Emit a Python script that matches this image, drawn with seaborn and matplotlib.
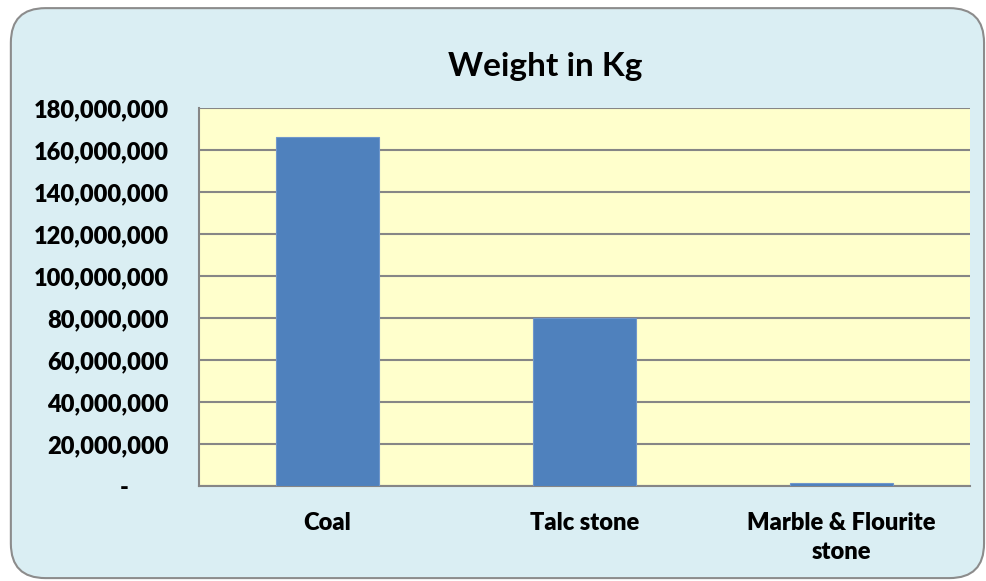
import matplotlib
matplotlib.use("Agg")
import matplotlib.pyplot as plt
import seaborn as sns
import pandas as pd
from matplotlib.patches import FancyBboxPatch
from matplotlib.ticker import FuncFormatter

categories = ["Coal", "Talc stone", "Marble & Flourite\nstone"]
weights = [166400000, 79800000, 1200000]

df = pd.DataFrame({"Category": categories, "Weight": weights})

sns.set_theme(style="white")
plt.rcParams["font.family"] = ["Lato", "DejaVu Sans"]
plt.rcParams["font.weight"] = "bold"

fig = plt.figure(figsize=(9.87, 5.81), dpi=100)
fig.patch.set_facecolor("white")

# rounded outer frame
frame = FancyBboxPatch((0.011, 0.005), 0.986, 0.981,
                       boxstyle="round,pad=0,rounding_size=0.035",
                       transform=fig.transFigure, facecolor="#DAEEF3",
                       edgecolor="#8C8C8C", linewidth=1.5,
                       mutation_aspect=987/581, zorder=-5)
fig.patches.append(frame)

ax = fig.add_axes([0.2016, 0.1635, 0.7812, 0.6506])
ax.set_zorder(2)
ax.set_facecolor("#FFFFCC")

sns.barplot(data=df, x="Category", y="Weight", color="#4F81BD",
            width=0.4, saturation=1, ax=ax, zorder=3,
            edgecolor="#7097CB", linewidth=0.8)

ax.set_ylim(0, 180000000)
ax.set_yticks(range(0, 180000001, 20000000))
ax.yaxis.set_major_formatter(FuncFormatter(lambda v, p: "-" if v == 0 else f"{int(v):,}"))
ax.grid(axis="y", color="#868686", linewidth=1.5, zorder=0)
ax.set_axisbelow(True)

for s in ["top", "right"]:
    ax.spines[s].set_visible(False)
for s in ["left", "bottom"]:
    ax.spines[s].set_color("#868686")
    ax.spines[s].set_linewidth(1.5)

ax.set_xlabel("")
ax.set_ylabel("")
ax.tick_params(axis="y", length=0, labelsize=17, pad=22, labelcolor="black")
ax.tick_params(axis="x", length=0, labelsize=17, pad=19, labelcolor="black")
for lbl in ax.get_xticklabels():
    lbl.set_linespacing(1.35)
    lbl.set_fontweight("heavy")
for lbl in ax.get_yticklabels():
    lbl.set_fontweight("heavy")
# the zero label is a centred dash in the accounting format
ax.get_yticklabels()[0].set_horizontalalignment("center")
ax.get_yticklabels()[0].set_x(-0.058)

fig.text(0.5525, 0.885, "Weight in Kg", ha="center", va="center",
         fontsize=24, fontweight="bold", color="black", zorder=3)

fig.savefig("out.png", dpi=100)
